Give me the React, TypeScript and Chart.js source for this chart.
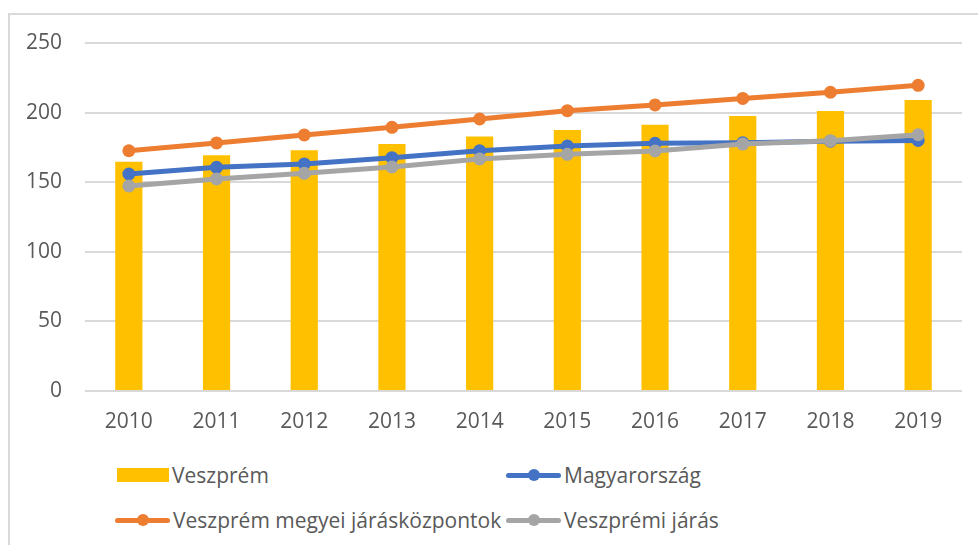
import React, { useEffect, useRef } from "react";
import { Chart, registerables } from "chart.js";

Chart.register(...registerables);

const years = ["2010", "2011", "2012", "2013", "2014", "2015", "2016", "2017", "2018", "2019"];
const veszprem = [164.7, 169.3, 172.9, 177.4, 182.9, 187.5, 191.3, 197.6, 201.1, 209.0];
const magyarorszag = [155.9, 160.7, 163.1, 167.6, 172.6, 176.0, 177.9, 178.3, 179.5, 180.0];
const megyeiJaraskozpontok = [172.6, 178.2, 183.9, 189.4, 195.4, 201.4, 205.5, 210.2, 214.6, 219.6];
const veszpremiJaras = [147.3, 152.3, 156.4, 160.9, 166.7, 170.0, 172.4, 177.4, 179.8, 184.1];
const yTicks = [0, 50, 100, 150, 200, 250];

const GOLD = "#FFC000";
const BLUE = "#4472C4";
const ORANGE = "#ED7D31";
const GRAY = "#A5A5A5";
const TEXT = "#595959";
const GRID = "#D9D9D9";
const FONT = "'Open Sans', 'Noto Sans', sans-serif";

function LegendLine({ color }: { color: string }) {
  return (
    <span style={{ position: "relative", display: "inline-block", width: 55, height: 14 }}>
      <span
        style={{
          position: "absolute",
          left: 0,
          top: 4.5,
          width: 55,
          height: 5,
          borderRadius: 3,
          background: color,
        }}
      />
      <span
        style={{
          position: "absolute",
          left: 21.5,
          top: 1,
          width: 12,
          height: 12,
          borderRadius: "50%",
          background: color,
        }}
      />
    </span>
  );
}

function LegendBox({ color }: { color: string }) {
  return (
    <span
      style={{ display: "inline-block", width: 52, height: 14, marginLeft: 2, background: color }}
    />
  );
}

function LegendItem({
  x,
  y,
  marker,
  label,
}: {
  x: number;
  y: number;
  marker: React.ReactNode;
  label: string;
}) {
  return (
    <div
      style={{
        position: "absolute",
        left: x,
        top: y - 13,
        height: 26,
        display: "flex",
        alignItems: "center",
        whiteSpace: "nowrap",
      }}
    >
      {marker}
      <span
        style={{
          display: "inline-block",
          marginLeft: 3,
          fontFamily: FONT,
          fontSize: 21,
          color: TEXT,
          lineHeight: "26px",
        }}
      >
        {label}
      </span>
    </div>
  );
}

export default function App() {
  const canvasRef = useRef<HTMLCanvasElement | null>(null);

  useEffect(() => {
    document.body.style.margin = "0";
    const canvas = canvasRef.current;
    if (!canvas) return;
    const lineStyle = (color: string) => ({
      borderColor: color,
      backgroundColor: color,
      borderWidth: 5,
      pointRadius: 6.5,
      pointBackgroundColor: color,
      pointBorderWidth: 0,
    });
    const chart = new Chart(canvas, {
      type: "bar",
      data: {
        labels: years,
        datasets: [
          {
            type: "bar",
            label: "Veszprém",
            data: veszprem,
            backgroundColor: GOLD,
            barPercentage: 0.31,
            categoryPercentage: 1,
            order: 4,
          },
          {
            type: "line",
            label: "Magyarország",
            data: magyarorszag,
            ...lineStyle(BLUE),
            order: 3,
          },
          {
            type: "line",
            label: "Veszprém megyei járásközpontok",
            data: megyeiJaraskozpontok,
            ...lineStyle(ORANGE),
            order: 2,
          },
          {
            type: "line",
            label: "Veszprémi járás",
            data: veszpremiJaras,
            ...lineStyle(GRAY),
            order: 1,
          },
        ],
      },
      options: {
        animation: false,
        responsive: false,
        maintainAspectRatio: false,
        layout: { padding: { top: 43, right: 16, left: 0, bottom: 0 } },
        plugins: {
          legend: { display: false },
          tooltip: { enabled: false },
        },
        scales: {
          x: {
            grid: { display: false, drawTicks: false },
            border: { display: false },
            ticks: {
              font: { family: FONT, size: 21 },
              color: TEXT,
              padding: 18,
            },
            afterFit: (scale: any) => {
              scale.height = 49;
            },
          },
          y: {
            min: yTicks[0],
            max: yTicks[yTicks.length - 1],
            afterBuildTicks: (scale: any) => {
              scale.ticks = yTicks.map((v) => ({ value: v }));
            },
            grid: { color: GRID, lineWidth: 2, drawTicks: false },
            border: { display: false },
            ticks: {
              font: { family: FONT, size: 21 },
              color: TEXT,
              padding: 23,
            },
            afterFit: (scale: any) => {
              scale.width = 85;
            },
          },
        },
      },
    });
    return () => chart.destroy();
  }, []);

  return (
    <div
      style={{
        position: "relative",
        width: 978,
        height: 545,
        overflow: "hidden",
        background: "#fff",
      }}
    >
      <div
        style={{
          position: "absolute",
          left: 8,
          top: 13,
          width: 1000,
          height: 600,
          borderLeft: `2px solid ${GRID}`,
          borderTop: `2px solid ${GRID}`,
        }}
      />
      <canvas
        ref={canvasRef}
        width={978}
        height={440}
        style={{ position: "absolute", left: 0, top: 0, width: 978, height: 440 }}
      />
      <LegendItem x={115} y={475} marker={<LegendBox color={GOLD} />} label="Veszprém" />
      <LegendItem x={506} y={475} marker={<LegendLine color={BLUE} />} label="Magyarország" />
      <LegendItem
        x={115}
        y={520}
        marker={<LegendLine color={ORANGE} />}
        label="Veszprém megyei járásközpontok"
      />
      <LegendItem x={506} y={520} marker={<LegendLine color={GRAY} />} label="Veszprémi járás" />
    </div>
  );
}
